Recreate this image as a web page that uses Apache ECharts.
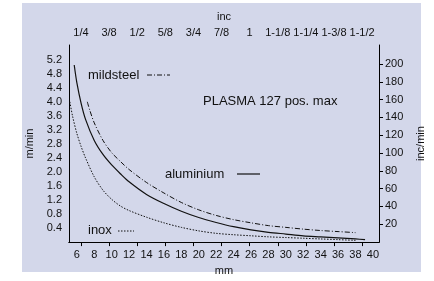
<!DOCTYPE html>
<html>
<head>
<meta charset="utf-8">
<script src="https://cdn.jsdelivr.net/npm/echarts@6/dist/echarts.min.js"></script>
<style>html,body{margin:0;padding:0;background:#fff}#c{width:434px;height:281px}</style>
</head>
<body>
<div id="c"></div>
<script>
// ---- data ----
var mmTicks = [6,8,10,12,14,16,18,20,22,24,26,28,30,32,34,36,38,40];
var leftTicks = [0.4,0.8,1.2,1.6,2.0,2.4,2.8,3.2,3.6,4.0,4.4,4.8,5.2];
var rightTicks = [20,40,60,80,100,120,140,160,180,200];
var incTickValues = [0.25,0.375,0.5,0.625,0.75,0.875,1,1.125,1.25,1.375,1.5];
var incTickLabels = ['1/4','3/8','1/2','5/8','3/4','7/8','1','1-1/8','1-1/4','1-3/8','1-1/2'];

var aluminiumMm  = [5.7,6,6.5,7,8,9,10,11,12,14,16,18,20,22,24,26,28,30,32,34,36,38,39.1];
var aluminiumVal = [5.05,4.55,3.95,3.5,2.9,2.5,2.2,1.95,1.72,1.36,1.1,0.88,0.7,0.56,0.44,0.35,0.28,0.23,0.18,0.15,0.12,0.09,0.07];

var mildsteelMm  = [7.2,7.5,8,9,10,11,12,14,16,18,20,22,24,26,28,30,32,34,36,38];
var mildsteelVal = [4.0,3.75,3.4,2.9,2.55,2.3,2.07,1.7,1.4,1.13,0.92,0.76,0.64,0.55,0.47,0.42,0.37,0.33,0.3,0.27];

var inoxMm  = [5.2,5.5,6,6.5,7,8,9,10,11,12,14,16,18,20,22,24,26,28,30,32,34,36,38];
var inoxVal = [4.0,3.6,3.1,2.72,2.4,1.86,1.48,1.22,1.03,0.9,0.71,0.55,0.42,0.32,0.25,0.21,0.18,0.15,0.13,0.11,0.09,0.07,0.05];

function zip(a,b){return a.map(function(x,i){return [x,b[i]];});}

var FONT = 'Liberation Sans, Arial, sans-serif';
var INK = '#111';
var YMAX = 5.62;

var chart = echarts.init(document.getElementById('c'), null, {renderer:'canvas'});
chart.setOption({
  animation:false,
  backgroundColor:'#ffffff',
  textStyle:{fontFamily:FONT},
  grid:{left:69, top:45, width:315, height:198, show:false},
  graphic:[
    {type:'rect', z:-10, silent:true, shape:{x:22,y:3,width:399,height:269}, style:{fill:'#d3d7ea'}},
    {type:'text', x:88, y:75, style:{text:'mildsteel', font:'13px '+FONT, fill:INK, verticalAlign:'middle'}},
    {type:'line', shape:{x1:147,y1:75,x2:170,y2:75}, style:{stroke:INK, lineWidth:1, lineDash:[5,2,1,2]}},
    {type:'text', x:203, y:101, style:{text:'PLASMA 127 pos. max', font:'13px '+FONT, fill:INK, verticalAlign:'middle'}},
    {type:'text', x:165, y:174, style:{text:'aluminium', font:'13px '+FONT, fill:INK, verticalAlign:'middle'}},
    {type:'line', shape:{x1:237,y1:174,x2:260,y2:174}, style:{stroke:INK, lineWidth:1.2}},
    {type:'text', x:88, y:230, style:{text:'inox', font:'13px '+FONT, fill:INK, verticalAlign:'middle'}},
    {type:'line', shape:{x1:118,y1:231,x2:134,y2:231}, style:{stroke:INK, lineWidth:1, lineDash:[1.5,1.5]}}
  ],
  xAxis:[
    {type:'value', position:'bottom', min:5.1, max:40.7,
     name:'mm', nameLocation:'middle', nameGap:20, nameTextStyle:{fontSize:11, color:INK},
     axisLine:{show:true, lineStyle:{color:'#000', width:1}},
     axisTick:{show:false},
     splitLine:{show:false},
     axisLabel:{customValues:mmTicks, fontSize:11, color:INK, margin:7}
    },
    {type:'value', position:'top', min:0.197, max:1.575,
     name:'inc', nameLocation:'middle', nameGap:23, nameTextStyle:{fontSize:11, color:INK},
     axisLine:{show:true, lineStyle:{color:'#000', width:1}},
     axisTick:{show:true, inside:true, length:4, customValues:incTickValues, lineStyle:{color:'#000'}},
     splitLine:{show:false},
     axisLabel:{customValues:incTickValues, fontSize:11, color:INK, margin:7,
       formatter:function(v){var i=incTickValues.indexOf(v);return i>=0?incTickLabels[i]:'';}}
    }
  ],
  yAxis:[
    {type:'value', position:'left', min:0, max:YMAX,
     name:'m/min', nameLocation:'middle', nameGap:33, nameRotate:90, nameTextStyle:{fontSize:11, color:INK},
     axisLine:{show:true, lineStyle:{color:'#000', width:1}},
     axisTick:{show:false},
     splitLine:{show:false},
     axisLabel:{customValues:leftTicks, fontSize:11, color:INK, margin:7,
       formatter:function(v){return v.toFixed(1);}}
    },
    {type:'value', position:'right', min:0, max:YMAX*39.37,
     name:'inc/min', nameLocation:'middle', nameGap:36, nameRotate:90, nameTextStyle:{fontSize:11, color:INK},
     axisLine:{show:true, lineStyle:{color:'#000', width:1}},
     axisTick:{show:true, inside:false, length:4, customValues:rightTicks, lineStyle:{color:'#000'}},
     splitLine:{show:false},
     axisLabel:{customValues:rightTicks, fontSize:11, color:INK, margin:6}
    }
  ],
  series:[
    {name:'aluminium', type:'line', xAxisIndex:0, yAxisIndex:0, showSymbol:false, smooth:0.3,
     lineStyle:{color:'#111', width:1.2, type:'solid'}, data:zip(aluminiumMm, aluminiumVal)},
    {name:'mildsteel', type:'line', xAxisIndex:0, yAxisIndex:0, showSymbol:false, smooth:0.3,
     lineStyle:{color:'#111', width:1, type:[5,2,1,2]}, data:zip(mildsteelMm, mildsteelVal)},
    {name:'inox', type:'line', xAxisIndex:0, yAxisIndex:0, showSymbol:false, smooth:0.3,
     lineStyle:{color:'#111', width:1, type:[1.5,1.5]}, data:zip(inoxMm, inoxVal)}
  ]
});
</script>
</body>
</html>
